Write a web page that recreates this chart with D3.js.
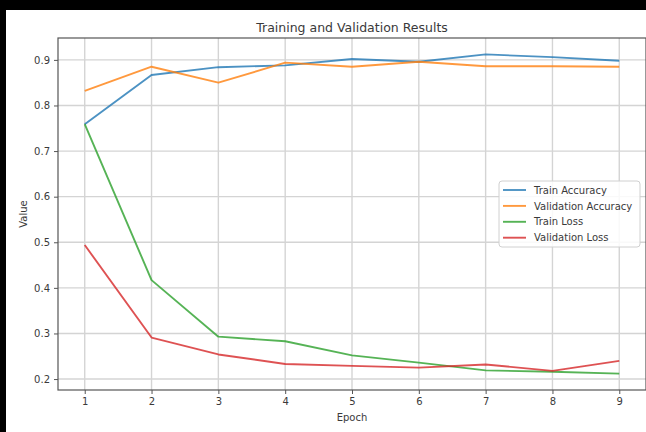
<!DOCTYPE html>
<html>
<head>
<meta charset="utf-8">
<script src="https://cdn.jsdelivr.net/npm/d3@7"></script>
<style>
  html, body { margin: 0; padding: 0; background: #fff; }
  svg { display: block; }
  text { font-family: "DejaVu Sans", sans-serif; fill: #3a3a3a; }
</style>
</head>
<body>
<script>
// Per-epoch training history
const epochs = [1, 2, 3, 4, 5, 6, 7, 8, 9];
const trainAccuracy = [0.759, 0.867, 0.884, 0.888, 0.902, 0.896, 0.912, 0.906, 0.898];
const valAccuracy   = [0.832, 0.885, 0.850, 0.894, 0.885, 0.896, 0.886, 0.886, 0.885];
const trainLoss     = [0.759, 0.417, 0.293, 0.283, 0.252, 0.236, 0.219, 0.216, 0.212];
const valLoss       = [0.494, 0.291, 0.254, 0.233, 0.229, 0.225, 0.232, 0.218, 0.240];
const yTicks = [0.2, 0.3, 0.4, 0.5, 0.6, 0.7, 0.8, 0.9];
const seriesNames = ["Train Accuracy", "Validation Accuracy", "Train Loss", "Validation Loss"];
const seriesColors = ["#1f77b4", "#ff7f0e", "#2ca02c", "#d62728"];

const W = 646, H = 432;
const plot = { left: 58, right: 646, top: 38, bottom: 390 };

const svg = d3.select("body").append("svg").attr("width", W).attr("height", H);
svg.append("rect").attr("width", W).attr("height", H).attr("fill", "#fff");

const x = d3.scaleLinear().domain([0.6, 9.4]).range([plot.left, plot.right]);
const y = d3.scaleLinear().domain([0.176, 0.948]).range([plot.bottom, plot.top]);

// grid
const grid = svg.append("g").attr("stroke", "#d4d4d4").attr("stroke-width", 1.4);
epochs.forEach(e => grid.append("line")
  .attr("x1", x(e)).attr("x2", x(e)).attr("y1", plot.top).attr("y2", plot.bottom));
yTicks.forEach(v => grid.append("line")
  .attr("x1", plot.left).attr("x2", plot.right).attr("y1", y(v)).attr("y2", y(v)));

// lines
const line = d3.line().x((d, i) => x(epochs[i])).y(d => y(d));
[trainAccuracy, valAccuracy, trainLoss, valLoss].forEach((s, k) => {
  svg.append("path").datum(s).attr("d", line)
    .attr("fill", "none").attr("stroke", seriesColors[k])
    .attr("stroke-opacity", 0.8).attr("stroke-width", 1.9)
    .attr("stroke-linejoin", "round");
});

// axes
const xAxis = d3.axisBottom(x).tickValues(epochs).tickFormat(d3.format("d"))
  .tickSizeInner(4).tickSizeOuter(0).tickPadding(4);
const yAxis = d3.axisLeft(y).tickValues(yTicks).tickFormat(d3.format(".1f"))
  .tickSizeInner(4).tickSizeOuter(0).tickPadding(4);
const gx = svg.append("g").attr("transform", `translate(0,${plot.bottom})`).call(xAxis);
const gy = svg.append("g").attr("transform", `translate(${plot.left},0)`).call(yAxis);
[gx, gy].forEach(g => {
  g.select(".domain").remove();
  g.selectAll(".tick line").attr("stroke", "#555").attr("stroke-width", 1);
  g.selectAll(".tick text").attr("font-size", 10).style("fill", "#3a3a3a");
});

// frame
svg.append("rect").attr("x", plot.left).attr("y", plot.top)
  .attr("width", plot.right - plot.left).attr("height", plot.bottom - plot.top)
  .attr("fill", "none").attr("stroke", "#555").attr("stroke-width", 1.2);

// labels
svg.append("text").attr("x", (plot.left + plot.right) / 2).attr("y", 32)
  .attr("text-anchor", "middle").attr("font-size", 12.5).text("Training and Validation Results");
svg.append("text").attr("x", (plot.left + plot.right) / 2).attr("y", 421)
  .attr("text-anchor", "middle").attr("font-size", 10).text("Epoch");
svg.append("text").attr("transform", `translate(27,${(plot.top + plot.bottom) / 2}) rotate(-90)`)
  .attr("text-anchor", "middle").attr("font-size", 10).text("Value");

// legend
const lg = svg.append("g").attr("transform", "translate(499,181)");
lg.append("rect").attr("width", 141).attr("height", 66).attr("rx", 3)
  .attr("fill", "#fff").attr("fill-opacity", 0.85)
  .attr("stroke", "#d0d0d0").attr("stroke-width", 1);
seriesNames.forEach((n, i) => {
  const yy = 9 + i * 15.9;
  lg.append("line").attr("x1", 4).attr("x2", 27).attr("y1", yy).attr("y2", yy)
    .attr("stroke", seriesColors[i]).attr("stroke-opacity", 0.8).attr("stroke-width", 1.9);
  lg.append("text").attr("x", 35).attr("y", yy + 3.6).attr("font-size", 10).text(n);
});

// dark frame strips along the top and left edges
svg.append("rect").attr("x", 0).attr("y", 0).attr("width", W).attr("height", 10).attr("fill", "#000");
svg.append("rect").attr("x", 0).attr("y", 0).attr("width", 6).attr("height", H).attr("fill", "#000");
</script>
</body>
</html>
